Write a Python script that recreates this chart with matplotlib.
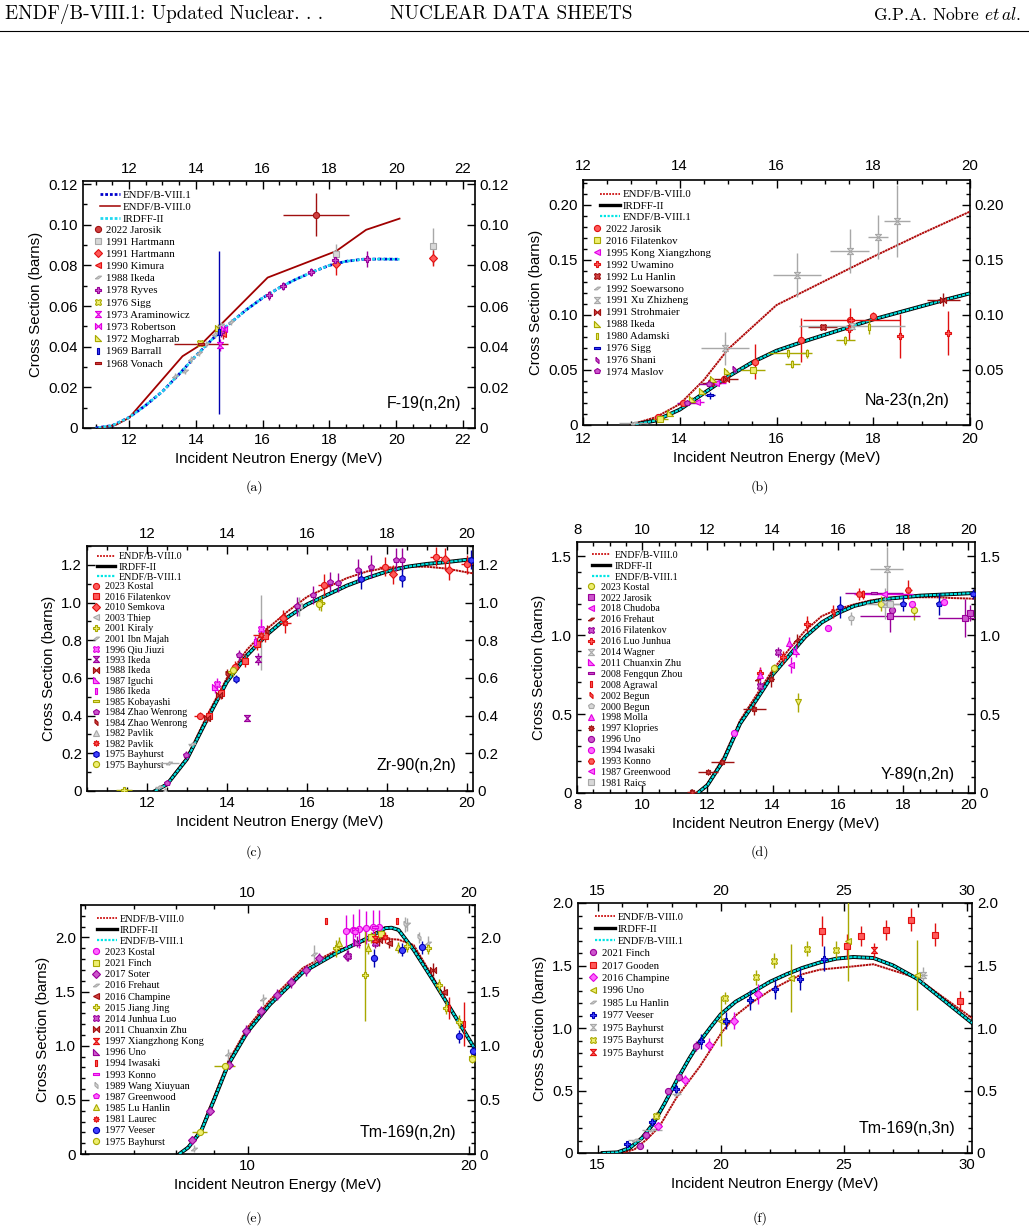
import matplotlib
matplotlib.use("Agg")
import matplotlib.pyplot as plt
from matplotlib.lines import Line2D
from matplotlib.ticker import MultipleLocator, FixedLocator, FuncFormatter, NullFormatter

W, H = 1029, 1230
plt.rcParams["font.family"] = "Liberation Sans"
plt.rcParams["mathtext.fontset"] = "cm"

# ---------------- evaluated curves ----------------
# (a) F-19(n,2n)
A_E1 = [11.0, 11.5, 12.0, 12.5, 13.0, 13.5, 14.0, 14.5, 15.0, 15.5, 16.0, 16.5, 17.0, 17.5, 18.0, 18.5, 19.0, 19.5, 20.1]
A_V81 = [0.0, 0.0012, 0.0052, 0.0112, 0.0180, 0.0265, 0.0355, 0.0438, 0.0512, 0.0580, 0.0640, 0.0690, 0.0732, 0.0768, 0.0800, 0.0820, 0.0830, 0.0831, 0.0830]
A_IRDFF = A_V81
A_E0 = [11.1, 11.6, 12.0, 13.6, 14.15, 16.15, 18.2, 19.1, 20.1]
A_V80 = [0.0, 0.0015, 0.005, 0.0353, 0.041, 0.074, 0.087, 0.0975, 0.1030]

# (b) Na-23(n,2n)
B_E0 = [12.96, 13.5, 14.0, 14.5, 15.0, 15.5, 16.0, 17.0, 18.0, 19.0, 20.0]
B_V80 = [0.0, 0.007, 0.019, 0.041, 0.069, 0.089, 0.109, 0.131, 0.153, 0.174, 0.194]
B_E1 = [13.0, 13.5, 14.0, 14.5, 15.0, 15.5, 16.0, 16.5, 17.0, 17.5, 18.0, 18.5, 19.0, 19.5, 20.0]
B_IRDFF = [0.0, 0.004, 0.014, 0.029, 0.044, 0.057, 0.0675, 0.075, 0.082, 0.089, 0.096, 0.102, 0.108, 0.114, 0.1197]
B_V81 = B_IRDFF

# (c) Zr-90(n,2n)
C_E = [12.2, 12.5, 13.0, 13.5, 14.0, 14.5, 15.0, 15.5, 16.0, 16.5, 17.0, 17.5, 18.0, 18.5, 19.0, 19.5, 20.0, 20.15]
C_IRDFF = [0.0, 0.035, 0.17, 0.38, 0.58, 0.72, 0.83, 0.92, 0.99, 1.04, 1.09, 1.13, 1.165, 1.19, 1.205, 1.215, 1.227, 1.23]
C_V81 = C_IRDFF
C_V80 = [0.0, 0.04, 0.18, 0.40, 0.60, 0.75, 0.86, 0.95, 1.03, 1.08, 1.13, 1.165, 1.185, 1.19, 1.19, 1.18, 1.16, 1.155]

# (d) Y-89(n,2n)
D_E = [11.7, 12.0, 12.5, 13.0, 13.5, 14.0, 14.5, 15.0, 15.5, 16.0, 16.5, 17.0, 17.5, 18.0, 18.5, 19.0, 19.5, 20.0, 20.2]
D_IRDFF = [0.0, 0.05, 0.21, 0.44, 0.59, 0.75, 0.87, 0.99, 1.08, 1.14, 1.185, 1.21, 1.23, 1.24, 1.25, 1.255, 1.26, 1.265, 1.267]
D_V81 = D_IRDFF
D_V80 = [0.0, 0.06, 0.23, 0.46, 0.62, 0.78, 0.91, 1.03, 1.12, 1.165, 1.195, 1.22, 1.235, 1.24, 1.24, 1.24, 1.235, 1.232, 1.23]

# (e) Tm-169(n,2n)
E_E = [8.07, 8.3, 8.64, 9.0, 9.4, 10.0, 10.72, 11.9, 13.2, 14.53, 15.39, 15.7, 16.05, 16.83, 17.93, 19.11, 20.4]
E_IRDFF = [0.0, 0.06, 0.21, 0.50, 0.82, 1.13, 1.38, 1.68, 1.855, 1.99, 2.086, 2.09, 2.07, 1.886, 1.594, 1.286, 0.97]
E_V81 = E_IRDFF
E_V80 = [0.0, 0.07, 0.23, 0.53, 0.85, 1.17, 1.42, 1.72, 1.88, 1.97, 1.985, 1.985, 1.98, 1.93, 1.62, 1.29, 0.96]

# (f) Tm-169(n,3n)
F_E1 = [15.2, 15.8, 16.3, 16.8, 17.24, 17.7, 18.19, 18.7, 19.14, 19.6, 20.0, 20.6, 21.31, 22.0, 22.67, 23.3, 24.03, 24.7, 25.38, 26.2, 27.0, 27.96, 29.0, 30.2]
F_IRDFF = [0.0, 0.005, 0.04, 0.12, 0.23, 0.39, 0.573, 0.75, 0.89, 1.01, 1.11, 1.21, 1.29, 1.37, 1.43, 1.48, 1.525, 1.555, 1.568, 1.56, 1.50, 1.395, 1.23, 1.04]
F_V81 = F_IRDFF
F_E0 = [15.2, 16.0, 16.5, 17.0, 17.5, 18.19, 19.14, 20.02, 20.6, 21.31, 22.0, 22.67, 23.3, 24.03, 25.38, 26.2, 27.0, 27.96, 29.0, 30.2]
F_V80 = [0.0, 0.0, 0.03, 0.11, 0.21, 0.44, 0.69, 0.96, 1.10, 1.21, 1.30, 1.37, 1.43, 1.467, 1.493, 1.51, 1.46, 1.40, 1.25, 1.08]

# ---------------- experimental data: (label, E, xs, dE, dxs) ----------------
A_EXP = [
    ("2022 Jarosik", [17.6], [0.105], [1.0], [0.0105]),
    ("1991 Hartmann", [18.2, 21.1], [0.0855, 0.0893], [0, 0], [0.005, 0.009]),
    ("1991 Hartmann", [18.2, 21.1], [0.0805, 0.0835], [0, 0], [0.005, 0.004]),
    ("1990 Kimura", [14.8], [0.046], [0], [0.002]),
    ("1988 Ikeda", [13.37, 13.66, 13.86, 14.1, 14.31, 14.56, 14.76, 15.06], [0.0255, 0.028, 0.0337, 0.037, 0.0414, 0.046, 0.0506, 0.052], [0] * 8, [0.0015] * 8),
    ("1978 Ryves", [14.75, 16.18, 16.6, 17.45, 18.17, 19.12], [0.047, 0.0652, 0.0699, 0.0768, 0.0825, 0.0833], [0] * 6, [0.002, 0.002, 0.002, 0.002, 0.003, 0.004]),
    ("1976 Sigg", [14.13], [0.0418], [0], [0.0015]),
    ("1973 Araminowicz", [14.71], [0.041], [0], [0.003]),
    ("1973 Robertson", [14.84], [0.0485], [0], [0.002]),
    ("1972 Mogharrab", [14.66], [0.049], [0], [0.002]),
    ("1969 Barrall", [14.69], [0.047], [0], [0.040]),
    ("1968 Vonach", [14.15], [0.0415], [0.8], [0.001]),
]
B_EXP = [
    ("2022 Jarosik", [13.56, 14.07, 14.64, 14.92, 15.55, 16.51, 17.51, 17.99], [0.0076, 0.0203, 0.039, 0.042, 0.0576, 0.077, 0.0955, 0.0994], [0] * 8, [0.001, 0.002, 0.003, 0.003, 0.016, 0.02, 0.011, 0.003]),
    ("2016 Filatenkov", [13.6, 15.52], [0.005, 0.050], [0.15, 0.25], [0.002, 0.003]),
    ("1995 Kong Xiangzhong", [14.35, 14.75], [0.021, 0.038], [0.15, 0.2], [0.002, 0.002]),
    ("1992 Uwamino", [17.5, 17.55, 18.55, 19.55], [0.087, 0.0955, 0.081, 0.0833], [0, 1.0, 0, 0], [0.01, 0.002, 0.02, 0.02]),
    ("1992 Lu Hanlin", [14.65, 16.96], [0.0385, 0.0894], [0.2, 0.3], [0.002, 0.002]),
    ("1992 Soewarsono", [13.05], [0.0015], [0.3], [0.0]),
    ("1991 Xu Zhizheng", [14.94, 16.42, 17.51, 17.56, 18.1, 18.5], [0.0697, 0.136, 0.158, 0.090, 0.171, 0.1855], [0.5, 0.5, 0.4, 1.1, 0.2, 0.27], [0.015, 0.02, 0.02, 0.0, 0.02, 0.033]),
    ("1991 Strohmaier", [14.95, 19.45], [0.042, 0.114], [0.25, 0.34], [0.002, 0.006]),
    ("1988 Ikeda", [13.8, 14.25, 14.45, 14.69, 14.97], [0.0106, 0.024, 0.031, 0.0415, 0.049], [0] * 5, [0.001] * 5),
    ("1980 Adamski", [16.23, 16.33, 16.63, 17.42, 17.91], [0.065, 0.0555, 0.065, 0.077, 0.089], [0.4, 0.15, 0.1, 0.2, 0.0], [0.004, 0.004, 0.004, 0.004, 0.006]),
    ("1976 Sigg", [14.62], [0.027], [0.1], [0.003]),
    ("1976 Shani", [15.12], [0.0506], [0], [0.002]),
    ("1974 Maslov", [14.15, 14.6], [0.020, 0.037], [0.2, 0.2], [0.001, 0.002]),
]
C_EXP = [
    ("2023 Kostal", [13.33, 14.2, 16.42, 17.94, 19.22, 20.0], [0.40, 0.66, 1.094, 1.19, 1.243, 1.204], [0.15, 0.1, 0.15, 0.15, 0.15, 0.15], [0.02, 0.03, 0.06, 0.05, 0.05, 0.05]),
    ("2016 Filatenkov", [13.55, 13.85, 14.45, 14.75, 14.95], [0.40, 0.52, 0.69, 0.78, 0.82], [0] * 5, [0.03] * 5),
    ("2010 Semkova", [15.4, 18.15, 19.45, 19.55], [0.92, 1.15, 1.23, 1.17], [0] * 4, [0.04, 0.05, 0.06, 0.05]),
    ("2003 Thiep", [14.85, 15.8], [0.84, 0.98], [0, 0], [0.2, 0.05]),
    ("2001 Kiraly", [11.42, 16.36], [0.003, 0.996], [0.2, 0.1], [0.01, 0.04]),
    ("2001 Ibn Majah", [12.3, 12.55, 13.12], [0.02, 0.15, 0.25], [0.1, 0.25, 0.1], [0.01, 0.01, 0.01]),
    ("1996 Qiu Jiuzi", [13.75, 14.85], [0.57, 0.86], [0, 0], [0.03, 0.05]),
    ("1993 Ikeda", [14.49, 14.77], [0.385, 0.70], [0, 0], [0.01, 0.03]),
    ("1988 Ikeda", [13.5, 13.8], [0.385, 0.51], [0, 0], [0.02, 0.02]),
    ("1987 Iguchi", [13.7], [0.55], [0], [0.03]),
    ("1986 Ikeda", [14.7], [0.79], [0], [0.03]),
    ("1985 Kobayashi", [14.1], [0.63], [0], [0.02]),
    ("1984 Zhao Wenrong", [12.5, 12.97, 14.3, 15.74, 16.14, 16.57, 16.78, 17.27, 17.6, 18.23, 18.38], [0.043, 0.19, 0.72, 0.98, 1.04, 1.11, 1.106, 1.17, 1.19, 1.227, 1.227], [0] * 11, [0.01, 0.02, 0.03, 0.05, 0.05, 0.05, 0.05, 0.06, 0.06, 0.06, 0.06]),
    ("1984 Zhao Wenrong", [14.0, 15.0], [0.62, 0.85], [0, 0], [0.03, 0.03]),
    ("1982 Pavlik", [12.45], [0.0], [0], [0.01]),
    ("1982 Pavlik", [14.85, 15.45], [0.83, 0.89], [0.2, 0.15], [0.04, 0.05]),
    ("1975 Bayhurst", [14.22, 17.34, 18.38, 20.1], [0.594, 1.124, 1.13, 1.227], [0] * 4, [0.02, 0.05, 0.05, 0.05]),
    ("1975 Bayhurst", [14.15, 16.3], [0.64, 0.99], [0, 0], [0.03, 0.03]),
]
D_EXP = [
    ("2023 Kostal", [14.05, 17.32, 18.33], [0.79, 1.2, 1.157], [0] * 3, [0.03, 0.05, 0.06]),
    ("2022 Jarosik", [17.58, 19.88, 20.05], [1.12, 1.11, 1.14], [0.92, 0.8, 0.05], [0.1, 0.12, 0.05]),
    ("2018 Chudoba", [14.55], [0.81], [0], [0.05]),
    ("2016 Frehaut", [13.55, 14.75], [0.72, 0.97], [0, 0], [0.03, 0.04]),
    ("2016 Filatenkov", [13.6, 14.17], [0.68, 0.894], [0, 0], [0.03, 0.03]),
    ("2016 Luo Junhua", [13.6, 14.3, 15.05], [0.76, 0.86, 1.07], [0] * 3, [0.04, 0.04, 0.05]),
    ("2014 Wagner", [17.49, 17.45], [1.42, 1.20], [0.5, 0.6], [0.14, 0.1]),
    ("2011 Chuanxin Zhu", [14.7], [0.9], [0], [0.04]),
    ("2008 Fengqun Zhou", [17.1], [1.266], [0.9], [0.0]),
    ("2008 Agrawal", [16.77], [1.258], [0], [0.03]),
    ("2002 Begun", [15.86], [1.149], [0], [0.04]),
    ("2000 Begun", [16.39], [1.107], [0], [0.04]),
    ("1998 Molla", [13.6, 14.5], [0.75, 0.95], [0, 0], [0.04, 0.04]),
    ("1997 Klopries", [11.52, 12.02, 12.45, 13.43, 13.94], [0.006, 0.133, 0.196, 0.532, 0.72], [0.15, 0.3, 0.35, 0.35, 0.1], [0.005, 0.01, 0.01, 0.04, 0.05]),
    ("1996 Uno", [17.65], [1.16], [0], [0.03]),
    ("1994 Iwasaki", [12.81, 15.69, 18.28, 19.25], [0.38, 1.048, 1.195, 1.21], [0] * 4, [0.01] * 4),
    ("1993 Konno", [16.65, 18.16], [1.26, 1.288], [0.1, 0.1], [0.04, 0.06]),
    ("1987 Greenwood", [17.4], [1.26], [0.9], [0.0]),
    ("1981 Raics", [17.6], [1.2], [0.5], [0.0]),
]
D_EXTRA = [
    ("blue", [16.05, 18.0, 19.1, 20.15], [1.18, 1.2, 1.2, 1.26], [0] * 4, [0.07, 0.05, 0.07, 0.03]),
    ("olive", [14.76], [0.574], [0], [0.06]),
]
E_EXP = [
    ("2023 Kostal", [13.6, 13.9, 14.2, 14.5, 14.8, 15.1], [2.06, 2.07, 2.08, 2.09, 2.1, 2.1], [0] * 6, [0.15, 0.15, 0.18, 0.15, 0.15, 0.15]),
    ("2021 Finch", [14.7, 15.2], [2.0, 2.03], [0, 0], [0.05, 0.05]),
    ("2017 Soter", [8.39, 8.9, 9.42, 9.94, 10.44, 10.95, 11.47, 11.99, 12.5, 13.65], [0.132, 0.394, 0.825, 1.14, 1.32, 1.47, 1.585, 1.695, 1.81, 1.83], [0] * 10, [0.03, 0.03, 0.04, 0.05, 0.05, 0.05, 0.05, 0.05, 0.05, 0.05]),
    ("2016 Frehaut", [8.45, 9.4, 10.5, 12.3, 16.5, 17.6], [0.05, 0.92, 1.43, 1.85, 2.12, 1.95], [0] * 6, [0.03, 0.05, 0.05, 0.08, 0.06, 0.06]),
    ("2016 Champine", [15.6, 18.5], [1.95, 1.5], [0, 0], [0.05, 0.05]),
    ("2015 Jiang Jing", [13.2, 14.44, 16.5, 17.6, 18.2, 18.6, 19.4, 20.2], [1.9, 1.65, 1.92, 1.9, 1.56, 1.35, 1.22, 0.9], [0] * 8, [0.08, 0.42, 0.05, 0.05, 0.06, 0.06, 0.06, 0.06]),
    ("2014 Junhua Luo", [13.7, 14.9], [1.83, 1.95], [0, 0], [0.05, 0.05]),
    ("2011 Chuanxin Zhu", [15.1, 17.9], [1.98, 1.7], [0, 0], [0.06, 0.06]),
    ("1997 Xiangzhong Kong", [14.9], [1.99], [0], [0.07]),
    ("1996 Uno", [14.1], [1.96], [0], [0.05]),
    ("1994 Iwasaki", [12.8, 15.99, 18.8, 19.7], [2.15, 2.15, 1.35, 1.2], [0] * 4, [0.03, 0.03, 0.1, 0.2]),
    ("1993 Konno", [14.0, 14.9], [2.08, 2.1], [0.3, 0.3], [0.0, 0.0]),
    ("1989 Wang Xiuyuan", [16.4, 17.1], [2.12, 2.0], [0, 0], [0.07, 0.05]),
    ("1987 Greenwood", [14.0], [2.05], [0], [0.05]),
    ("1985 Lu Hanlin", [13.3, 14.6, 16.0], [1.95, 1.9, 1.91], [0] * 3, [0.05] * 3),
    ("1981 Laurec", [15.4], [2.0], [0], [0.05]),
    ("1977 Veeser", [14.87, 16.24, 17.28, 19.4, 20.3], [1.81, 1.886, 1.908, 1.086, 0.95], [0] * 5, [0.08, 0.06, 0.06, 0.06, 0.05]),
    ("1975 Bayhurst", [8.6, 9.3, 20.2], [0.2, 0.81, 0.88], [0.2, 0.3, 0.0], [0.01, 0.01, 0.03]),
]
F_EXP = [
    ("2021 Finch", [16.7, 16.97, 17.85, 18.29, 19.0], [0.053, 0.147, 0.493, 0.605, 0.853], [0] * 5, [0.02, 0.02, 0.03, 0.03, 0.04]),
    ("2017 Gooden", [24.12, 25.11, 25.7, 26.71, 27.72, 28.71, 29.7], [1.78, 1.653, 1.733, 1.781, 1.867, 1.747, 1.219], [0] * 7, [0.12, 0.1, 0.08, 0.08, 0.09, 0.09, 0.08]),
    ("2016 Champine", [17.44, 18.53, 19.5, 20.52, 21.52], [0.213, 0.587, 0.867, 1.059, 1.275], [0] * 5, [0.03, 0.04, 0.05, 0.07, 0.08]),
    ("1996 Uno", [20.02, 22.87, 25.18, 27.96], [1.053, 1.4, 1.7, 1.427], [0] * 4, [0.2, 0.27, 0.32, 0.28]),
    ("1985 Lu Hanlin", [16.5, 17.2, 18.2], [0.107, 0.187, 0.47], [0.25, 0.4, 0.2], [0.0, 0.0, 0.0]),
    ("1977 Veeser", [16.19, 17.19, 18.19, 19.21, 20.2, 21.18, 22.19, 23.21, 24.19], [0.072, 0.248, 0.515, 0.893, 1.059, 1.227, 1.312, 1.392, 1.555], [0] * 9, [0.02, 0.03, 0.04, 0.06, 0.07, 0.08, 0.08, 0.09, 0.1]),
    ("1975 Bayhurst", [28.23], [1.427], [0.15], [0.06]),
    ("1975 Bayhurst", [17.38, 20.16, 21.42, 22.15, 23.51, 24.68], [0.30, 1.24, 1.408, 1.539, 1.635, 1.627], [0.15] + [0] * 5, [0.03, 0.05, 0.06, 0.06, 0.06, 0.07]),
    ("1975 Bayhurst", [26.24], [1.621], [0], [0.06]),
]

# ---------------- marker shapes and colours ----------------
SLANT = [(-1, -0.45), (0.1, 0.45), (1, 0.45), (-0.1, -0.45), (-1, -0.45)]
HGLASS = [(-1, 1), (1, 1), (-1, -1), (1, -1), (-1, 1)]
BOWTIE = [(-1, -1), (-1, 1), (1, -1), (1, 1), (-1, -1)]
RTRI = [(-1, -1), (1, -1), (-1, 1), (-1, -1)]
VBAR = [(-0.45, -1), (0.45, -1), (0.45, 1), (-0.45, 1), (-0.45, -1)]
HBAR = [(-1, -0.45), (1, -0.45), (1, 0.45), (-1, 0.45), (-1, -0.45)]
LEAF = [(-0.5, 1), (0.5, 0.1), (0.5, -1), (-0.5, -0.1), (-0.5, 1)]
FLOWER = (8, 1, 0)

RED = ("#ff5a5a", "#e01010")
DRED = ("#d04040", "#a01010")
GRAY = ("#d8d8d8", "#a8a8a8")
OLIVE = ("#eeee70", "#a8a800")
MAG = ("#ff66ff", "#e000e0")
PURP = ("#cc55cc", "#990099")
BLUE = ("#4040ff", "#0000b0")

A_STY = [("o", DRED), ("s", GRAY), ("D", RED), ("<", RED), (SLANT, GRAY), ("P", PURP),
         ("X", OLIVE), (HGLASS, MAG), (BOWTIE, MAG), (RTRI, OLIVE), (VBAR, BLUE), (HBAR, DRED)]
B_STY = [("o", RED), ("s", OLIVE), ("<", MAG), ("P", RED), ("X", DRED), (SLANT, GRAY),
         (HGLASS, GRAY), (BOWTIE, DRED), (RTRI, OLIVE), (VBAR, OLIVE), (HBAR, BLUE), (LEAF, PURP), ("p", PURP)]
C_STY = [("o", RED), ("s", RED), ("D", RED), ("<", GRAY), ("P", OLIVE), (SLANT, GRAY),
         ("X", MAG), (HGLASS, PURP), (BOWTIE, DRED), (RTRI, MAG), (VBAR, MAG), (HBAR, OLIVE),
         ("p", PURP), (LEAF, DRED), ("^", GRAY), (FLOWER, RED), ("h", BLUE), ("o", OLIVE)]
D_STY = [("o", OLIVE), ("s", PURP), ("<", MAG), (SLANT, DRED), ("X", PURP), ("P", RED),
         (HGLASS, GRAY), (RTRI, MAG), (HBAR, PURP), (VBAR, RED), (LEAF, RED), ("p", GRAY),
         ("^", MAG), (FLOWER, DRED), ("o", PURP), ("o", MAG), ("H", RED), ("<", MAG), ("s", GRAY)]
D_EXTRA_STY = [("p", BLUE), ("v", OLIVE)]
E_STY = [("o", MAG), ("s", OLIVE), ("D", PURP), (SLANT, GRAY), ("<", DRED), ("P", OLIVE),
         ("X", PURP), (BOWTIE, DRED), (HGLASS, RED), (RTRI, PURP), (VBAR, RED), (HBAR, MAG),
         (LEAF, GRAY), ("p", MAG), ("^", OLIVE), (FLOWER, RED), ("o", BLUE), ("o", OLIVE)]
F_STY = [("o", PURP), ("s", RED), ("D", MAG), ("<", OLIVE), (SLANT, GRAY), ("P", BLUE),
         (HGLASS, GRAY), ("X", OLIVE), (HGLASS, RED)]

V80_COLOR = "#b00a0a"
V80_LS = (0, (1.2, 0.3))

fig = plt.figure(figsize=(W / 100, H / 100), dpi=100)


def add_axes(l, t, r, b):
    return fig.add_axes([l / W, 1 - b / H, (r - l) / W, (b - t) / H])


def fmt_y(nd):
    return FuncFormatter(lambda v, p: "0" if abs(v) < 1e-9 else f"{v:.{nd}f}")


def setup(ax, xlim, ylim, xmaj, xmin, ymaj, ymin, nd):
    ax.set_xlim(*xlim)
    ax.set_ylim(*ylim)
    if xmaj is not None:
        ax.xaxis.set_major_locator(MultipleLocator(xmaj))
        ax.xaxis.set_minor_locator(MultipleLocator(xmin))
    ax.yaxis.set_major_locator(MultipleLocator(ymaj))
    ax.yaxis.set_minor_locator(MultipleLocator(ymin))
    ax.yaxis.set_major_formatter(fmt_y(nd))
    ax.tick_params(which="both", direction="in", top=True, right=True,
                   labeltop=True, labelright=True, labelsize=10.8, width=1.0)
    ax.tick_params(which="major", length=6)
    ax.tick_params(which="minor", length=3)
    for s in ax.spines.values():
        s.set_linewidth(1.2)
    ax.set_xlabel("Incident Neutron Energy (MeV)", fontsize=10.8)
    ax.set_ylabel("Cross Section (barns)", fontsize=10.8)


def draw_exp(ax, exp, sty):
    for (lab, x, y, xe, ye), (m, (fc, ec)) in zip(exp, sty):
        ax.errorbar(x, y, xerr=xe, yerr=ye, fmt="none", ecolor=ec, elinewidth=1.0, zorder=6)
        ax.plot(x, y, ls="none", marker=m, mfc=fc, mec=ec, ms=4.4, mew=0.8, zorder=7)


def draw_curves(ax, e0, v80, e1, irdff, v81):
    ax.plot(e0, v80, color=V80_COLOR, lw=1.4, ls=V80_LS, zorder=3)
    ax.plot(e1, irdff, color="black", lw=2.8, zorder=4)
    ax.plot(e1, v81, color="#00e0e0", lw=1.5, ls=(0, (1.6, 0.4)), zorder=5)


def legends(ax, curve_h, curve_l, exp, sty, c_anchor, d_anchor, fs, c_sp, d_sp, c_len, c_pad, d_pad):
    prop = {"family": "Liberation Serif", "size": fs}
    l1 = ax.legend(curve_h, curve_l, loc="upper left", bbox_to_anchor=c_anchor, frameon=False,
                   borderpad=0, borderaxespad=0, handlelength=c_len, handletextpad=c_pad,
                   labelspacing=c_sp, prop=prop)
    ax.add_artist(l1)
    hs = [Line2D([], [], ls="none", marker=m, mfc=fc, mec=ec, ms=4.4, mew=0.8) for m, (fc, ec) in sty]
    ax.legend(hs, [e[0] for e in exp], loc="upper left", bbox_to_anchor=d_anchor, frameon=False,
              borderpad=0, borderaxespad=0, handlelength=0.8, handletextpad=d_pad,
              labelspacing=d_sp, prop=prop)


def std_handles():
    return ([Line2D([], [], color="#cc1010", lw=1.3, ls=(0, (1.0, 0.7))),
             Line2D([], [], color="black", lw=2.4),
             Line2D([], [], color="#00e5e5", lw=1.6, ls=(0, (1.0, 0.7)))],
            ["ENDF/B-VIII.0", "IRDFF-II", "ENDF/B-VIII.1"])


# ---------------- (a) ----------------
ax = add_axes(83, 181, 475, 428)
setup(ax, (10.62, 22.36), (0, 0.1215), 2, 0.5, 0.02, 0.01, 2)
ax.plot(A_E1, A_V81, color="#0000cc", lw=2.0, ls=(0, (1.2, 0.8)), zorder=3)
ax.plot(A_E0, A_V80, color="#a00000", lw=1.3, zorder=4)
ax.plot(A_E1, A_IRDFF, color="#20d8f0", lw=1.8, ls=(0.9, (1.2, 0.8)), zorder=5)
draw_exp(ax, A_EXP, A_STY)
ah = [Line2D([], [], color="#0000cc", lw=2.0, ls=(0, (1.0, 0.7))),
      Line2D([], [], color="#a00000", lw=1.1),
      Line2D([], [], color="#20d8f0", lw=2.0, ls=(0, (1.0, 0.7)))]
legends(ax, ah, ["ENDF/B-VIII.1", "ENDF/B-VIII.0", "IRDFF-II"], A_EXP, A_STY,
        (0.043, 0.962), (0.0265, 0.822), 7.8, 0.23, 0.24, 1.85, 0.28, 0.37)
ax.text(0.965, 0.1, "F-19(n,2n)", transform=ax.transAxes, ha="right", va="center", fontsize=11.5)

# ---------------- (b) ----------------
ax = add_axes(583, 180, 970, 425)
setup(ax, (12, 20), (0, 0.2227), 2, 0.5, 0.05, 0.01, 2)
ax.tick_params(axis="x", which="major", pad=5)
draw_curves(ax, B_E0, B_V80, B_E1, B_IRDFF, B_V81)
draw_exp(ax, B_EXP, B_STY)
h, l = std_handles()
legends(ax, h, l, B_EXP, B_STY, (0.044, 0.960), (0.026, 0.820), 7.8, 0.17, 0.22, 1.85, 0.2, 0.4)
ax.text(0.948, 0.1, "Na-23(n,2n)", transform=ax.transAxes, ha="right", va="center", fontsize=11.5)

# ---------------- (c) ----------------
ax = add_axes(87, 546, 473, 791)
setup(ax, (10.5, 20.15), (0, 1.30), 2, 0.5, 0.2, 0.1, 1)
draw_curves(ax, C_E, C_V80, C_E, C_IRDFF, C_V81)
draw_exp(ax, C_EXP, C_STY)
h, l = std_handles()
legends(ax, h, l, C_EXP, C_STY, (0.025, 0.975), (0.013, 0.852), 7.2, 0.14, 0.15, 1.83, 0.4, 0.5)
ax.text(0.956, 0.106, "Zr-90(n,2n)", transform=ax.transAxes, ha="right", va="center", fontsize=11.5)

# ---------------- (d) ----------------
ax = add_axes(577, 542, 975, 793)
setup(ax, (8, 20.2), (0, 1.59), 2, 0.5, 0.5, 0.1, 1)
draw_curves(ax, D_E, D_V80, D_E, D_IRDFF, D_V81)
draw_exp(ax, D_EXTRA, D_EXTRA_STY)
draw_exp(ax, D_EXP, D_STY)
h, l = std_handles()
legends(ax, h, l, D_EXP, D_STY, (0.037, 0.966), (0.024, 0.838), 7.2, 0.2, 0.19, 1.83, 0.5, 0.6)
ax.text(0.95, 0.072, "Y-89(n,2n)", transform=ax.transAxes, ha="right", va="center", fontsize=11.5)

# ---------------- (e) ----------------
ax = add_axes(81, 905, 475, 1154)
ax.set_xscale("log")
setup(ax, (5.93, 20.4), (0, 2.30), None, None, 0.5, 0.1, 1)
ax.xaxis.set_major_locator(FixedLocator([10, 20]))
ax.xaxis.set_minor_locator(FixedLocator([6, 7, 8, 9]))
ax.xaxis.set_major_formatter(FuncFormatter(lambda v, p: f"{v:g}"))
ax.xaxis.set_minor_formatter(NullFormatter())
draw_curves(ax, E_E, E_V80, E_E, E_IRDFF, E_V81)
draw_exp(ax, E_EXP, E_STY)
h, l = std_handles()
legends(ax, h, l, E_EXP, E_STY, (0.041, 0.962), (0.028, 0.828), 7.4, 0.17, 0.19, 1.9, 0.25, 0.5)
ax.text(0.952, 0.088, "Tm-169(n,2n)", transform=ax.transAxes, ha="right", va="center", fontsize=11.5)

# ---------------- (f) ----------------
ax = add_axes(578, 903, 972, 1153)
setup(ax, (14.2, 30.2), (0, 2.0), 5, 1, 0.5, 0.1, 1)
draw_curves(ax, F_E0, F_V80, F_E1, F_IRDFF, F_V81)
draw_exp(ax, F_EXP, F_STY)
h, l = std_handles()
legends(ax, h, l, F_EXP, F_STY, (0.043, 0.962), (0.028, 0.817), 7.6, 0.24, 0.29, 1.9, 0.25, 0.4)
ax.text(0.957, 0.1, "Tm-169(n,3n)", transform=ax.transAxes, ha="right", va="center", fontsize=11.5)

# ---------------- page header and captions ----------------
hdr = {"family": "cmr10", "size": 13.8}
fig.text(5 / W, 1 - 14 / H, "ENDF/B-VIII.1: Updated Nuclear. . .", ha="left", va="center", fontdict=hdr)
fig.text(390 / W, 1 - 14 / H, "NUCLEAR DATA SHEETS", ha="left", va="center", fontdict=hdr)
fig.text(1021 / W, 1 - 14 / H, r"G.P.A. Nobre $\mathit{et\,al.}$", ha="right", va="center",
         family="cmr10", size=12.6)
fig.add_artist(Line2D([0, 1], [1 - 31 / H, 1 - 31 / H], transform=fig.transFigure, color="black", lw=0.8))

for cx, cy, cap in [(254, 487, "(a)"), (760, 487, "(b)"), (254, 852, "(c)"),
                    (760, 852, "(d)"), (254, 1218, "(e)"), (760, 1218, "(f)")]:
    fig.text(cx / W, 1 - cy / H, cap, ha="center", va="center", family="cmr10", size=10)

fig.savefig("out.png", dpi=100)
